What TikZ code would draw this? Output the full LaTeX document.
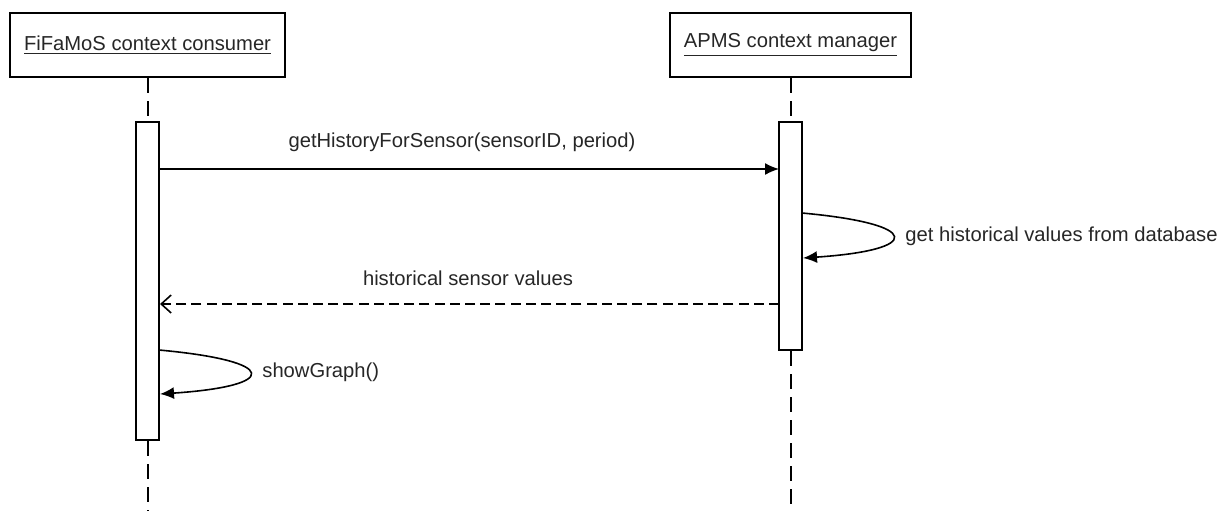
\documentclass[tikz,border=0pt]{standalone}
\usepackage{fontspec}
\setmainfont{Liberation Sans}
\usetikzlibrary{arrows.meta}

\begin{document}
\begin{tikzpicture}[x=0.5pt,y=-0.5pt,
  header/.style={draw,line width=1pt,minimum width=137.5pt,minimum height=32pt,inner sep=0pt},
  bar/.style={draw,fill=white,line width=1pt,minimum width=11.5pt,inner sep=0pt},
  lifeline/.style={line width=1pt,dash pattern=on 7.5pt off 4pt},
  call/.style={line width=0.8pt,-{Latex[length=7pt,width=6pt]}},
  reply/.style={line width=0.8pt,dash pattern=on 5pt off 2.6pt,-{Straight Barb[length=5pt,width=9pt]}},
  txt/.style={inner sep=0pt,text=black!85,font=\fontsize{10.1pt}{12pt}\selectfont}]
\useasboundingbox (0,0) rectangle (1229,511);

\node[header] (consumer) at (147.5,45) {};
\node[txt] (consumerlbl) at (147.5,45) {\underline{FiFaMoS context consumer}};
\node[header,minimum width=120.5pt] (manager) at (790.5,45) {};
\node[txt] (managerlbl) at (790.5,45) {\underline{APMS context manager}};

\coordinate (consumerend) at (147.5,511);
\coordinate (managerend) at (790.5,511);

\node[bar,minimum height=159pt] (consumerbar) at (147.5,281) {};
\node[bar,minimum height=114pt] (managerbar) at (790.5,236) {};

\draw[lifeline] (consumer.south) -- (consumerbar.north);
\draw[lifeline] (consumerbar.south) -- (consumerend);
\draw[lifeline] (manager.south) -- (managerbar.north);
\draw[lifeline] (managerbar.south) -- (managerend);

% request
\coordinate (reqfrom) at (159,169);
\coordinate (reqto) at (779,169);
\draw[call] (reqfrom) -- (reqto);
\node[txt] (reqlbl) at (462,142) {getHistoryForSensor(sensorID, period)};

% self call on manager
\coordinate (dbfrom) at (802,213);
\coordinate (dbto) at (803,258);
\draw[call] (dbfrom) .. controls (923,224) and (923,250) .. (dbto);
\node[txt,anchor=west] (dblbl) at (905,236) {get historical values from database};

% reply
\coordinate (repfrom) at (779,304);
\coordinate (repto) at (160,304);
\draw[reply] (repfrom) -- (repto);
\node[txt] (replbl) at (468,278) {historical sensor values};

% self call on consumer
\coordinate (showfrom) at (159,350);
\coordinate (showto) at (160,394);
\draw[call] (showfrom) .. controls (280,361) and (280,386) .. (showto);
\node[txt,anchor=west] (showlbl) at (262,372) {showGraph()};

\end{tikzpicture}
\end{document}
